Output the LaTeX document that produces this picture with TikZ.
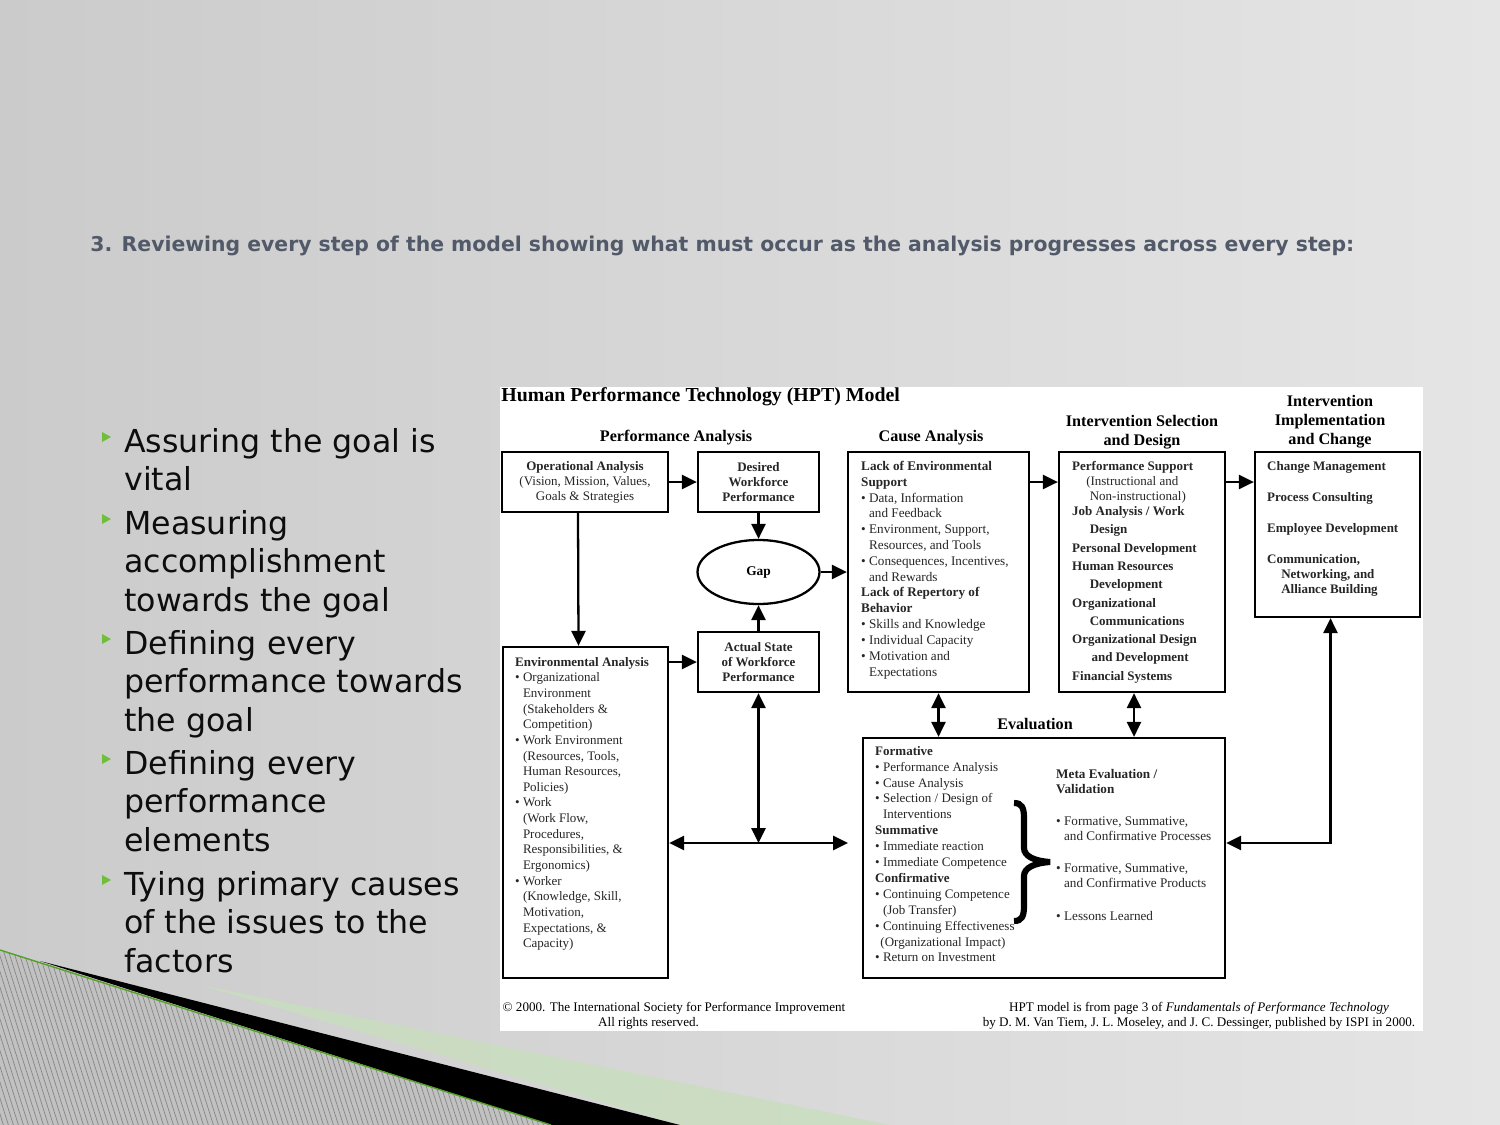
\documentclass[tikz,border=0pt]{standalone}
\usepackage{fontspec}
\setmainfont{Liberation Serif}
\newfontfamily\slidefont{DejaVu Sans}
\usepackage{tikz}
\usetikzlibrary{arrows.meta,calc,shapes.geometric,positioning}

\definecolor{slideleft}{RGB}{203,203,203}
\definecolor{slideright}{RGB}{229,229,229}
\definecolor{headblue}{RGB}{82,90,106}
\definecolor{bulletgreen}{RGB}{112,190,60}
\definecolor{darkgreen}{RGB}{84,160,40}
\definecolor{palegreen}{RGB}{200,222,190}
\definecolor{hatchgray}{RGB}{135,135,135}

\newcommand\bul{\textbullet\ }
\newcommand\cont{\phantom{\textbullet\ }}

\begin{document}
\begin{tikzpicture}[x=0.02cm, y=-0.02cm, >={Triangle[length=8.5pt,width=8pt]}]
	\tikzset{stage/.style 2 args={draw, line width=1.3pt, inner sep=0pt, align=center, minimum width=#1*0.02cm, minimum height=#2*0.02cm, font=\fontsize{7.4}{8.6}\selectfont\bfseries, text=black!85},
		gapnode/.style={draw, ellipse, line width=1.3pt, inner sep=0pt, minimum width=122*0.02cm, minimum height=64*0.02cm, font=\fontsize{7.6}{9}\selectfont\bfseries},
		txt/.style={anchor=north west, align=left, inner sep=0pt, text=black!85, font=\fontsize{7.4}{8.9}\selectfont},
		head/.style={align=center, inner sep=0pt, font=\fontsize{9.2}{10.8}\selectfont\bfseries},
		foot/.style={align=center, inner sep=0pt, font=\fontsize{7.45}{8.5}\selectfont},
		flow/.style={line width=1.3pt},
		item/.style={anchor=north west, align=left, inner sep=0pt, text=black!95, font=\slidefont\fontsize{18}{21.9}\selectfont}}
	\useasboundingbox (0,0) rectangle (1500,1125);
	% slide background
	\shade[left color=slideleft, right color=slideright] (0,0) rectangle (1500,1125);
	\fill[palegreen, opacity=0.8] (200,985) -- (680,1125) -- (890,1125) -- cycle;
	\fill[slideleft!95!black] (0,950) -- (551,1125) -- (0,1125) -- cycle;
	\begin{scope}
		\clip (0,950) -- (551,1125) -- (0,1125) -- cycle;
		\foreach \i in {-120,-115,...,560}
			\draw[hatchgray, line width=0.4pt] (\i,940) -- ++(60,190);
	\end{scope}
	\fill[black] (40,961) -- (551,1125) -- (680,1125) -- cycle;
	\draw[darkgreen, line width=0.8pt] (0,950) -- (551,1125);
	% heading and bullets
	\node[anchor=base west, inner sep=0pt, text=headblue, font=\slidefont\bfseries\fontsize{11.6}{13}\selectfont] (heading) at (90,252) {3. Reviewing every step of the model showing what must occur as the analysis progresses across every step:};
	\node[item] (i1) at (124,428) {Assuring the goal is\\vital};
	\node[item] (i2) at (124,510) {Measuring\\accomplishment\\towards the goal};
	\node[item] (i3) at (124,630) {Defining every\\performance towards\\the goal};
	\node[item] (i4) at (124,750) {Defining every\\performance\\elements};
	\node[item] (i5) at (124,871) {Tying primary causes\\of the issues to the\\factors};
	\foreach \n in {i1,i2,i3,i4,i5}
		\fill[bulletgreen] ($(\n.north west)+(-22,4)$) -- ++(9,5) -- ++(-9,5) -- cycle;
	% HPT model
	\fill[white] (500,387) rectangle (1423,1031);
	\node[anchor=west, inner sep=0pt, font=\fontsize{11.3}{13}\selectfont\bfseries] (hpt) at (501,397) {Human Performance Technology (HPT) Model};
	\node[head] (perfhead) at (676,438) {Performance Analysis};
	\node[head] (causehead) at (931,438) {Cause Analysis};
	\node[head] (selhead) at (1142,432) {Intervention Selection\\and Design};
	\node[head] (implhead) at (1330,422) {Intervention\\Implementation\\and Change};
	\node[head] (evalhead) at (1035,724) {Evaluation};

	\node[stage={166}{60}] (opa) at (585,482) {Operational Analysis\\\mdseries(Vision, Mission, Values,\\\mdseries Goals \& Strategies};
	\node[stage={121}{60}] (dwp) at (758.5,482) {Desired\\Workforce\\Performance};
	\node[gapnode] (gap) at (758.5,572) {Gap};
	\node[stage={121}{60}] (actual) at (758.5,662) {Actual State\\of Workforce\\Performance};
	\node[stage={165}{331}] (env) at (585.5,812.5) {};
	\node[stage={181}{240}] (cause) at (938.5,572) {};
	\node[stage={166}{240}] (isd) at (1142,572) {};
	\node[stage={165}{165}] (iic) at (1337.5,534.5) {};
	\node[stage={362}{240}] (evl) at (1044,858) {};

	\node[txt] (envtxt) at ($(env.north west)+(13,11)$) {\textbf{Environmental Analysis}\\\bul Organizational\\\cont Environment\\\cont (Stakeholders \&\\\cont Competition)\\\bul Work Environment\\\cont (Resources, Tools,\\\cont Human Resources,\\\cont Policies)\\\bul Work\\\cont (Work Flow,\\\cont Procedures,\\\cont Responsibilities, \&\\\cont Ergonomics)\\\bul Worker\\\cont (Knowledge, Skill,\\\cont Motivation,\\\cont Expectations, \&\\\cont Capacity)};
	\node[txt, font=\fontsize{7.5}{9}\selectfont] (causetxt) at ($(cause.north west)+(14,10)$) {\textbf{Lack of Environmental}\\\textbf{Support}\\\bul Data, Information\\\cont and Feedback\\\bul Environment, Support,\\\cont Resources, and Tools\\\bul Consequences, Incentives,\\\cont and Rewards\\\textbf{Lack of Repertory of}\\\textbf{Behavior}\\\bul Skills and Knowledge\\\bul Individual Capacity\\\bul Motivation and\\\cont Expectations};
	\node[txt, font=\fontsize{7.4}{8.6}\selectfont\bfseries] (isdtxt) at ($(isd.north west)+(14,10)$) {Performance Support\\\hspace*{8pt}\mdseries(Instructional and\\\hspace*{10pt}\mdseries Non-instructional)\\Job Analysis / Work\\[1.8pt]\hspace*{10pt}Design\\[1.8pt]Personal Development\\[1.8pt]Human Resources\\[1.8pt]\hspace*{10pt}Development\\[1.8pt]Organizational\\[1.8pt]\hspace*{10pt}Communications\\[1.8pt]Organizational Design\\[1.8pt]\hspace*{11pt}and Development\\[1.8pt]Financial Systems};
	\node[txt, font=\fontsize{7.4}{8.8}\selectfont\bfseries] (iictxt) at ($(iic.north west)+(13,10)$) {Change Management\\[8.8pt]Process Consulting\\[8.8pt]Employee Development\\[8.8pt]Communication,\\\hspace*{8pt}Networking, and\\\hspace*{8pt}Alliance Building};
	\node[txt, font=\fontsize{7.4}{9.05}\selectfont] (evaltxt) at ($(evl.north west)+(13,9)$) {\textbf{Formative}\\\bul Performance Analysis\\\bul Cause Analysis\\\bul Selection / Design of\\\cont Interventions\\\textbf{Summative}\\\bul Immediate reaction\\\bul Immediate Competence\\\textbf{Confirmative}\\\bul Continuing Competence\\\cont (Job Transfer)\\\bul Continuing Effectiveness\\\hspace*{3pt}(Organizational Impact)\\\bul Return on Investment};
	\node[txt, font=\fontsize{7.5}{8.6}\selectfont] (metatxt) at ($(evl.north west)+(194,32)$) {\textbf{Meta Evaluation /}\\\textbf{Validation}\\[9.7pt]\bul Formative, Summative,\\\cont and Confirmative Processes\\[9.7pt]\bul Formative, Summative,\\\cont and Confirmative Products\\[9.7pt]\bul Lessons Learned};
	\draw[line width=3.5pt] (1014,803) .. controls (1022,803) and (1024,808) .. (1024,818) -- (1024,848) .. controls (1024,856) and (1034,861) .. (1050,862) .. controls (1034,863) and (1024,868) .. (1024,876) -- (1024,906) .. controls (1024,916) and (1022,921) .. (1014,921);

	\coordinate (hub) at (758.5,843);
	\coordinate (evtip) at (848,843);
	\draw[flow, ->] (opa) -- (dwp);
	\draw[flow, ->] ([xshift=-0.14cm]opa.south) -- ([xshift=-0.14cm]env.north);
	\draw[flow, ->] (dwp) -- (gap);
	\draw[flow, ->] (actual) -- (gap);
	\draw[flow, ->] (gap) -- (cause);
	\draw[flow, ->] (env.east |- actual) -- (actual);
	\draw[flow, <->] (actual) -- (hub);
	\draw[flow, <->] (env.east |- hub) -- (evtip);
	\draw[flow, <->] (cause.south) -- (cause.south |- evl.north);
	\draw[flow, <->] ([xshift=-0.16cm]isd.south) -- ([xshift=-0.16cm]isd.south |- evl.north);
	\draw[flow, ->] (cause.east |- dwp) -- (isd.west |- dwp);
	\draw[flow, ->] (isd.east |- dwp) -- (iic.west |- dwp);
	\draw[flow, <->] (evl.east |- hub) -| ([xshift=-0.14cm]iic.south);

	\node[foot] (copy) at (674,1016) {\textcopyright{} 2000. The International Society for Performance Improvement\\All rights reserved.\hspace*{29pt}};
	\node[foot] (source) at (1199,1016) {HPT model is from page 3 of \textit{Fundamentals of Performance Technology}\\by D. M. Van Tiem, J. L. Moseley, and J. C. Dessinger, published by ISPI in 2000.};
\end{tikzpicture}
\end{document}
